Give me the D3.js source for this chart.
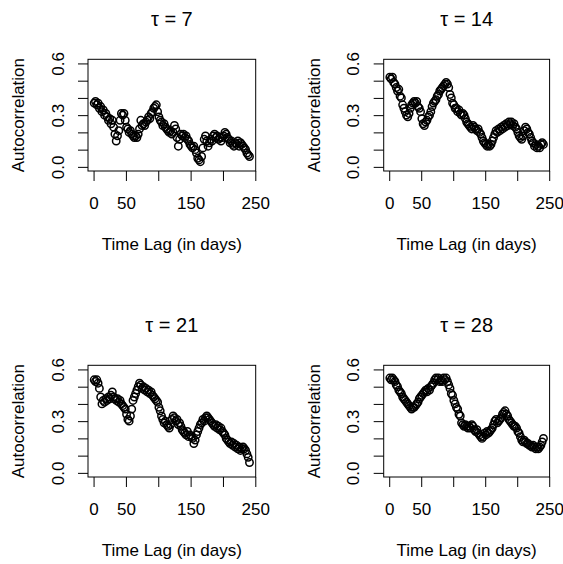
<!DOCTYPE html>
<html>
<head>
<meta charset="utf-8">
<script src="https://cdn.jsdelivr.net/npm/d3@7/dist/d3.min.js"></script>
<style>
  body { margin: 0; background: #fff; }
  svg { display: block; }
  text { font-family: "Liberation Sans", Arial, sans-serif; fill: #000; }
</style>
</head>
<body>
<svg id="chart" width="563" height="564"></svg>
<script>
// lags (days), one point every 2 days
const lags = [
  1, 3, 5, 7, 9, 11, 13, 15, 17, 19,
  21, 23, 25, 27, 29, 31, 33, 35, 37, 39,
  41, 43, 45, 47, 49, 51, 53, 55, 57, 59,
  61, 63, 65, 67, 69, 71, 73, 75, 77, 79,
  81, 83, 85, 87, 89, 91, 93, 95, 97, 99,
  101, 103, 105, 107, 109, 111, 113, 115, 117, 119,
  121, 123, 125, 127, 129, 131, 133, 135, 137, 139,
  141, 143, 145, 147, 149, 151, 153, 155, 157, 159,
  161, 163, 165, 167, 169, 171, 173, 175, 177, 179,
  181, 183, 185, 187, 189, 191, 193, 195, 197, 199,
  201, 203, 205, 207, 209, 211, 213, 215, 217, 219,
  221, 223, 225, 227, 229, 231, 233, 235, 237, 239,
  241
];

const acfTau7 = [
  0.37, 0.38, 0.36, 0.37, 0.34, 0.35, 0.32, 0.33, 0.30, 0.31,
  0.29, 0.27, 0.28, 0.25, 0.27, 0.23, 0.19, 0.15, 0.18, 0.21,
  0.27, 0.31, 0.30, 0.31, 0.27, 0.23, 0.22, 0.20, 0.21, 0.19,
  0.18, 0.17, 0.18, 0.17, 0.19, 0.22, 0.27, 0.24, 0.25, 0.24,
  0.26, 0.27, 0.29, 0.28, 0.31, 0.32, 0.34, 0.35, 0.36, 0.32,
  0.29, 0.27, 0.26, 0.24, 0.25, 0.23, 0.22, 0.21, 0.20, 0.21,
  0.19, 0.20, 0.24, 0.22, 0.17, 0.12, 0.16, 0.19, 0.18, 0.19,
  0.17, 0.18, 0.16, 0.15, 0.13, 0.12, 0.11, 0.12, 0.10, 0.08,
  0.05, 0.04, 0.03, 0.06, 0.11, 0.16, 0.18, 0.15, 0.12, 0.14,
  0.16, 0.15, 0.18, 0.19, 0.17, 0.18, 0.16, 0.17, 0.15, 0.17,
  0.18, 0.20, 0.19, 0.17, 0.16, 0.14, 0.15, 0.13, 0.12, 0.14,
  0.13, 0.15, 0.12, 0.14, 0.13, 0.12, 0.11, 0.10, 0.08, 0.07,
  0.06
];

const acfTau14 = [
  0.52, 0.51, 0.52, 0.49, 0.48, 0.46, 0.44, 0.45, 0.41, 0.40,
  0.36, 0.34, 0.32, 0.30, 0.29, 0.31, 0.34, 0.36, 0.37, 0.38,
  0.37, 0.38, 0.35, 0.34, 0.32, 0.28, 0.25, 0.24, 0.26, 0.27,
  0.29, 0.30, 0.32, 0.35, 0.37, 0.38, 0.39, 0.41, 0.42, 0.44,
  0.45, 0.46, 0.47, 0.48, 0.49, 0.48, 0.46, 0.42, 0.40, 0.37,
  0.36, 0.34, 0.34, 0.32, 0.33, 0.31, 0.30, 0.31, 0.30, 0.28,
  0.26, 0.25, 0.24, 0.23, 0.22, 0.24, 0.23, 0.22, 0.21, 0.22,
  0.20, 0.19, 0.17, 0.15, 0.14, 0.13, 0.12, 0.13, 0.12, 0.13,
  0.15, 0.17, 0.19, 0.21, 0.20, 0.22, 0.21, 0.23, 0.22, 0.24,
  0.23, 0.25, 0.24, 0.26, 0.25, 0.26, 0.24, 0.25, 0.23, 0.22,
  0.20, 0.18, 0.17, 0.16, 0.18, 0.21, 0.23, 0.22, 0.20, 0.19,
  0.17, 0.15, 0.14, 0.12, 0.13, 0.11, 0.12, 0.11, 0.13, 0.14,
  0.13
];

const acfTau21 = [
  0.54, 0.53, 0.54, 0.52, 0.49, 0.44, 0.40, 0.42, 0.41, 0.43,
  0.42, 0.44, 0.43, 0.45, 0.47, 0.44, 0.43, 0.42, 0.43, 0.41,
  0.42, 0.40, 0.39, 0.38, 0.37, 0.34, 0.31, 0.30, 0.33, 0.37,
  0.42, 0.44, 0.46, 0.48, 0.50, 0.52, 0.51, 0.49, 0.50, 0.48,
  0.49, 0.47, 0.48, 0.46, 0.47, 0.45, 0.44, 0.43, 0.42, 0.41,
  0.38, 0.36, 0.33, 0.31, 0.29, 0.30, 0.28, 0.27, 0.26, 0.28,
  0.31, 0.33, 0.32, 0.30, 0.31, 0.28, 0.29, 0.27, 0.25, 0.24,
  0.23, 0.22, 0.24, 0.21, 0.22, 0.21, 0.20, 0.17, 0.19, 0.22,
  0.24, 0.26, 0.28, 0.29, 0.31, 0.30, 0.32, 0.33, 0.32, 0.31,
  0.30, 0.29, 0.28, 0.27, 0.28, 0.26, 0.27, 0.25, 0.26, 0.24,
  0.23, 0.22, 0.20, 0.19, 0.18, 0.17, 0.18, 0.16, 0.17, 0.15,
  0.16, 0.14, 0.15, 0.13, 0.14, 0.15, 0.14, 0.13, 0.11, 0.09,
  0.06
];

const acfTau28 = [
  0.55, 0.54, 0.55, 0.54, 0.53, 0.51, 0.50, 0.48, 0.47, 0.46,
  0.44, 0.43, 0.42, 0.41, 0.40, 0.39, 0.38, 0.37, 0.38, 0.38,
  0.39, 0.40, 0.41, 0.43, 0.44, 0.45, 0.46, 0.47, 0.48, 0.47,
  0.49, 0.48, 0.50, 0.51, 0.52, 0.54, 0.55, 0.54, 0.55, 0.53,
  0.54, 0.53, 0.55, 0.54, 0.55, 0.53, 0.51, 0.49, 0.46, 0.45,
  0.42, 0.40, 0.38, 0.37, 0.34, 0.33, 0.29, 0.28, 0.27, 0.28,
  0.27, 0.26, 0.27, 0.26, 0.28, 0.27, 0.25, 0.24, 0.25, 0.23,
  0.22, 0.21, 0.20, 0.21, 0.23, 0.22, 0.24, 0.23, 0.24, 0.25,
  0.26, 0.28, 0.30, 0.31, 0.29, 0.30, 0.31, 0.32, 0.34, 0.35,
  0.36, 0.34, 0.33, 0.31, 0.30, 0.29, 0.28, 0.27, 0.27, 0.26,
  0.24, 0.23, 0.21, 0.19, 0.18, 0.19, 0.18, 0.17, 0.17, 0.16,
  0.16, 0.15, 0.16, 0.15, 0.14, 0.15, 0.14, 0.15, 0.16, 0.18,
  0.20
];

const panelTitles = ["\u03c4 = 7", "\u03c4 = 14", "\u03c4 = 21", "\u03c4 = 28"];
const panelSeries = [acfTau7, acfTau14, acfTau21, acfTau28];

const yTicks = [0, 0.1, 0.2, 0.3, 0.4, 0.5, 0.6];
const yLabelTicks = [0, 0.3, 0.6];
const xTicks = [0, 50, 100, 150, 200, 250];
const xLabelTicks = [0, 50, 150, 250]; // 100 and 200 are dropped, as R does when they crowd
const yAxisLabel = "Autocorrelation";
const xAxisLabel = "Time Lag (in days)";

// plot boxes (2 x 2 layout)
const colLeft = [88, 383.7];
const colRight = [255.7, 549.6];
const rowTop = [59.3, 365.3];
const rowBottom = [171, 477];

const svg = d3.select("#chart");
svg.append("rect").attr("width", 563).attr("height", 564).attr("fill", "#fff");

// R pads the axis range by 4% on each side
const pad4 = (lo, hi) => [lo - (hi - lo) * 0.04, hi + (hi - lo) * 0.04];
const xDomain = pad4(d3.min(lags), d3.max(lags));
const yDomain = pad4(0, 0.6);

panelSeries.forEach((values, i) => {
  const col = i % 2;
  const row = Math.floor(i / 2);
  const left = colLeft[col], right = colRight[col];
  const top = rowTop[row], bottom = rowBottom[row];

  const x_scale = d3.scaleLinear().domain(xDomain).range([left, right]);
  const y_scale = d3.scaleLinear().domain(yDomain).range([bottom, top]);

  const g = svg.append("g");

  // points (open circles, like pch = 1)
  g.append("g")
    .selectAll("circle")
    .data(lags.map((d, k) => ({ lag: d, acf: values[k] })))
    .join("circle")
    .attr("cx", (d) => x_scale(d.lag))
    .attr("cy", (d) => y_scale(d.acf))
    .attr("r", 3.7)
    .attr("fill", "none")
    .attr("stroke", "#000")
    .attr("stroke-width", 1.5);

  // box
  g.append("rect")
    .attr("x", left)
    .attr("y", top)
    .attr("width", right - left)
    .attr("height", bottom - top)
    .attr("fill", "none")
    .attr("stroke", "#000")
    .attr("stroke-width", 1);

  /* X AXIS */
  const xAxis = g.append("g")
    .attr("transform", "translate(0," + bottom + ")")
    .call(
      d3.axisBottom(x_scale)
        .tickValues(xTicks)
        .tickSizeOuter(0)
        .tickSize(10)
        .tickFormat((d) => (xLabelTicks.includes(d) ? d3.format("d")(d) : ""))
    );
  xAxis.select(".domain").remove();
  xAxis.selectAll("line").attr("stroke", "#000");
  xAxis.selectAll("text")
    .attr("y", 38)
    .attr("dy", null)
    .attr("font-size", 17)
    .attr("font-family", null)
    .attr("fill", "#000");

  /* Y AXIS */
  const yAxis = g.append("g")
    .attr("transform", "translate(" + left + ",0)")
    .call(
      d3.axisLeft(y_scale)
        .tickValues(yTicks)
        .tickSizeOuter(0)
        .tickSize(10)
        .tickFormat((d) => (yLabelTicks.some((v) => Math.abs(v - d) < 1e-9) ? d3.format(".1f")(d) : ""))
    );
  yAxis.select(".domain").remove();
  yAxis.selectAll("line").attr("stroke", "#000");
  yAxis.selectAll("text")
    .attr("x", 0)
    .attr("dy", null)
    .attr("text-anchor", "middle")
    .attr("transform", "translate(-24.5,0) rotate(-90)")
    .attr("font-size", 17)
    .attr("font-family", null)
    .attr("fill", "#000");

  // title
  g.append("text")
    .attr("x", (left + right) / 2)
    .attr("y", top - 33.5)
    .attr("text-anchor", "middle")
    .attr("font-size", 20)
    .text(panelTitles[i]);

  // axis labels
  g.append("text")
    .attr("x", (left + right) / 2)
    .attr("y", bottom + 79)
    .attr("text-anchor", "middle")
    .attr("font-size", 17)
    .text(xAxisLabel);

  g.append("text")
    .attr("transform", "translate(" + (left - 64) + "," + (top + bottom) / 2 + ") rotate(-90)")
    .attr("text-anchor", "middle")
    .attr("font-size", 17)
    .text(yAxisLabel);
});
</script>
</body>
</html>
